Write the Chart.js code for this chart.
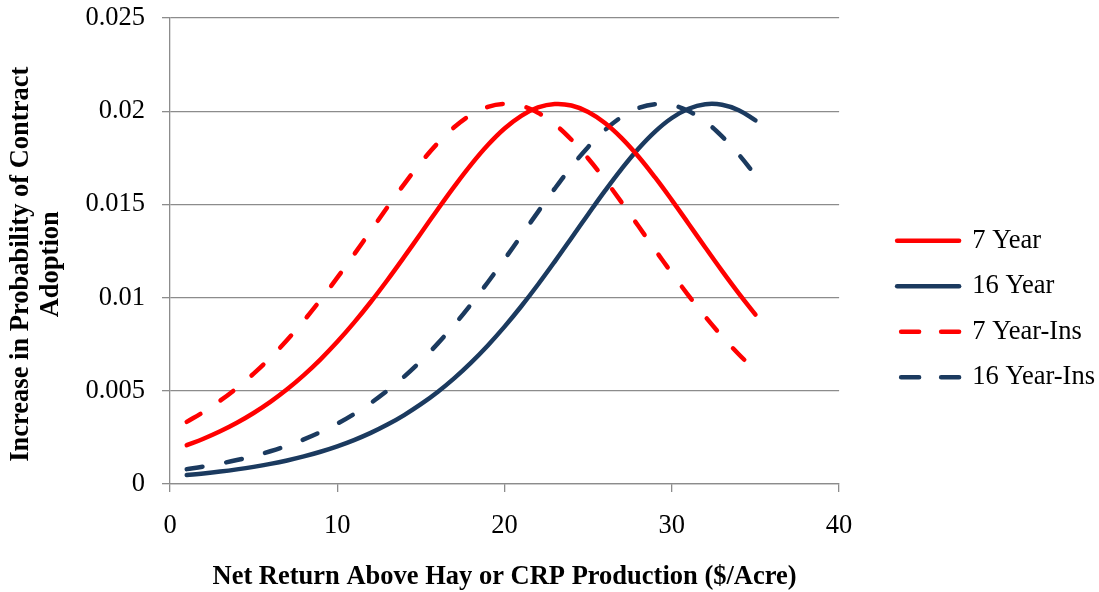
<!DOCTYPE html>
<html>
<head>
<meta charset="utf-8">
<script src="https://cdn.jsdelivr.net/npm/chart.js@4/dist/chart.umd.min.js"></script>
<style>
  html, body { margin: 0; padding: 0; background: #ffffff; }
  #wrap { width: 1099px; height: 592px; position: relative; }
</style>
</head>
<body>
<div id="wrap"><canvas id="c"></canvas></div>
<script>
// ---- data ----
const xValues = [1,2,3,4,5,6,7,8,9,10,11,12,13,14,15,16,17,18,19,20,21,22,23,24,25,26,27,28,29,30,31,32,33,34,35];
const year7 = [0.002082,0.002428,0.002827,0.003285,0.003810,0.004407,0.005082,0.005842,0.006690,0.007628,0.008655,0.009764,0.010946,0.012183,0.013454,0.014728,0.015968,0.017135,0.018183,0.019069,0.019752,0.020199,0.020386,0.020305,0.019960,0.019368,0.018559,0.017571,0.016446,0.015230,0.013965,0.012689,0.011435,0.010229,0.009089];
const year16 = [0.000485,0.000569,0.000668,0.000785,0.000920,0.001078,0.001263,0.001479,0.001729,0.002019,0.002355,0.002742,0.003188,0.003699,0.004280,0.004939,0.005682,0.006513,0.007433,0.008442,0.009535,0.010703,0.011932,0.013198,0.014475,0.015725,0.016910,0.017986,0.018908,0.019635,0.020132,0.020373,0.020346,0.020053,0.019507];
const year7Ins = [0.003333,0.003865,0.004470,0.005154,0.005922,0.006779,0.007726,0.008761,0.009878,0.011067,0.012309,0.013582,0.014854,0.016090,0.017247,0.018282,0.019149,0.019810,0.020232,0.020393,0.020285,0.019914,0.019299,0.018470,0.017465,0.016328,0.015106,0.013838,0.012562,0.011312,0.010111,0.008978,0.007926,0.006961,0.006086];
const year16Ins = [0.000798,0.000935,0.001096,0.001284,0.001502,0.001756,0.002051,0.002392,0.002785,0.003236,0.003754,0.004343,0.005011,0.005762,0.006602,0.007531,0.008548,0.009649,0.010824,0.012058,0.013326,0.014601,0.015847,0.017022,0.018085,0.018988,0.019693,0.020165,0.020380,0.020326,0.020007,0.019438,0.018649,0.017676,0.016563];
const seriesLabels = ['7 Year', '16 Year', '7 Year-Ins', '16 Year-Ins'];
const xTickLabels = ['0', '10', '20', '30', '40'];
const yTickLabels = ['0', '0.005', '0.01', '0.015', '0.02', '0.025'];
const xTitle = 'Net Return Above Hay or CRP Production ($/Acre)';
const yTitle = ['Increase in Probability of Contract    ', 'Adoption    '];

// ---- styling ----
const RED = '#FF0000';
const NAVY = '#1B3A5F';
const GRID = '#8C8C8C';
const FONT = "'Liberation Serif', 'Times New Roman', Times, serif";
const FS = 26.5;
const DASH = [16, 24];
const LEGEND_DASH = [18, 22];

function pts(arr) { return xValues.map((x, i) => ({ x: x, y: arr[i] })); }
function ds(label, arr, color, dash) {
  return {
    label: label,
    data: pts(arr),
    borderColor: color,
    backgroundColor: color,
    borderWidth: 4.5,
    borderDash: dash,
    borderCapStyle: 'round',
    borderJoinStyle: 'round',
    pointRadius: 0,
    pointHoverRadius: 0,
    tension: 0.4,
    fill: false
  };
}

const legendShift = {
  id: 'legendShift',
  afterLayout(chart) {
    const l = chart.legend;
    if (l) { l.left += 39; l.right += 39; l.top += 4; l.bottom += 4; }
  }
};

new Chart(document.getElementById('c'), {
  type: 'line',
  data: {
    datasets: [
      ds(seriesLabels[0], year7, RED, []),
      ds(seriesLabels[1], year16, NAVY, []),
      ds(seriesLabels[2], year7Ins, RED, DASH),
      ds(seriesLabels[3], year16Ins, NAVY, DASH)
    ]
  },
  plugins: [legendShift],
  options: {
    responsive: true,
    maintainAspectRatio: false,
    animation: false,
    events: [],
    layout: { padding: { top: 18, right: 33, bottom: 0, left: 0 } },
    plugins: {
      tooltip: { enabled: false },
      legend: {
        display: true,
        position: 'right',
        align: 'center',
        labels: {
          usePointStyle: true,
          pointStyle: 'line',
          pointStyleWidth: 62,
          padding: 19,
          color: '#000000',
          font: { family: FONT, size: FS },
          generateLabels(chart) {
            const items = Chart.defaults.plugins.legend.labels.generateLabels(chart);
            items.forEach((it) => {
              const d = chart.data.datasets[it.datasetIndex];
              const dashed = d.borderDash && d.borderDash.length > 0;
              it.pointStyle = 'line';
              it.strokeStyle = d.borderColor;
              it.fillStyle = d.borderColor;
              it.lineWidth = d.borderWidth;
              it.lineCap = 'round';
              it.lineDash = dashed ? LEGEND_DASH : [];
              it.lineDashOffset = dashed ? 36 : 0;
            });
            return items;
          }
        }
      }
    },
    scales: {
      x: {
        type: 'linear',
        min: 0,
        max: 40,
        afterFit(scale) { scale.height = 108; },
        ticks: {
          stepSize: 10,
          padding: 18,
          color: '#000000',
          font: { family: FONT, size: FS },
          maxRotation: 0,
          callback: (v) => xTickLabels[Math.round(v / 10)]
        },
        grid: { drawOnChartArea: false, drawTicks: true, tickLength: 8, color: GRID, lineWidth: 1.3 },
        border: { display: true, color: GRID, width: 1.3 },
        title: {
          display: true,
          text: xTitle,
          color: '#000000',
          font: { family: FONT, size: FS, weight: 'bold', lineHeight: 1.1 },
          padding: { top: 0, bottom: 0 }
        }
      },
      y: {
        type: 'linear',
        min: 0,
        max: 0.025,
        afterFit(scale) { scale.width = 170; scale.paddingTop = 0; scale.paddingBottom = 0; },
        ticks: {
          stepSize: 0.005,
          padding: 17,
          color: '#000000',
          font: { family: FONT, size: FS },
          callback: (v) => yTickLabels[Math.round(v / 0.005)]
        },
        grid: { drawOnChartArea: true, drawTicks: true, tickLength: 8, color: GRID, lineWidth: 1.3 },
        border: { display: true, color: GRID, width: 1.3 },
        title: {
          display: true,
          text: yTitle,
          color: '#000000',
          font: { family: FONT, size: FS, weight: 'bold', lineHeight: 1.1 },
          padding: { top: 7, bottom: 0 }
        }
      }
    }
  }
});
</script>
</body>
</html>
